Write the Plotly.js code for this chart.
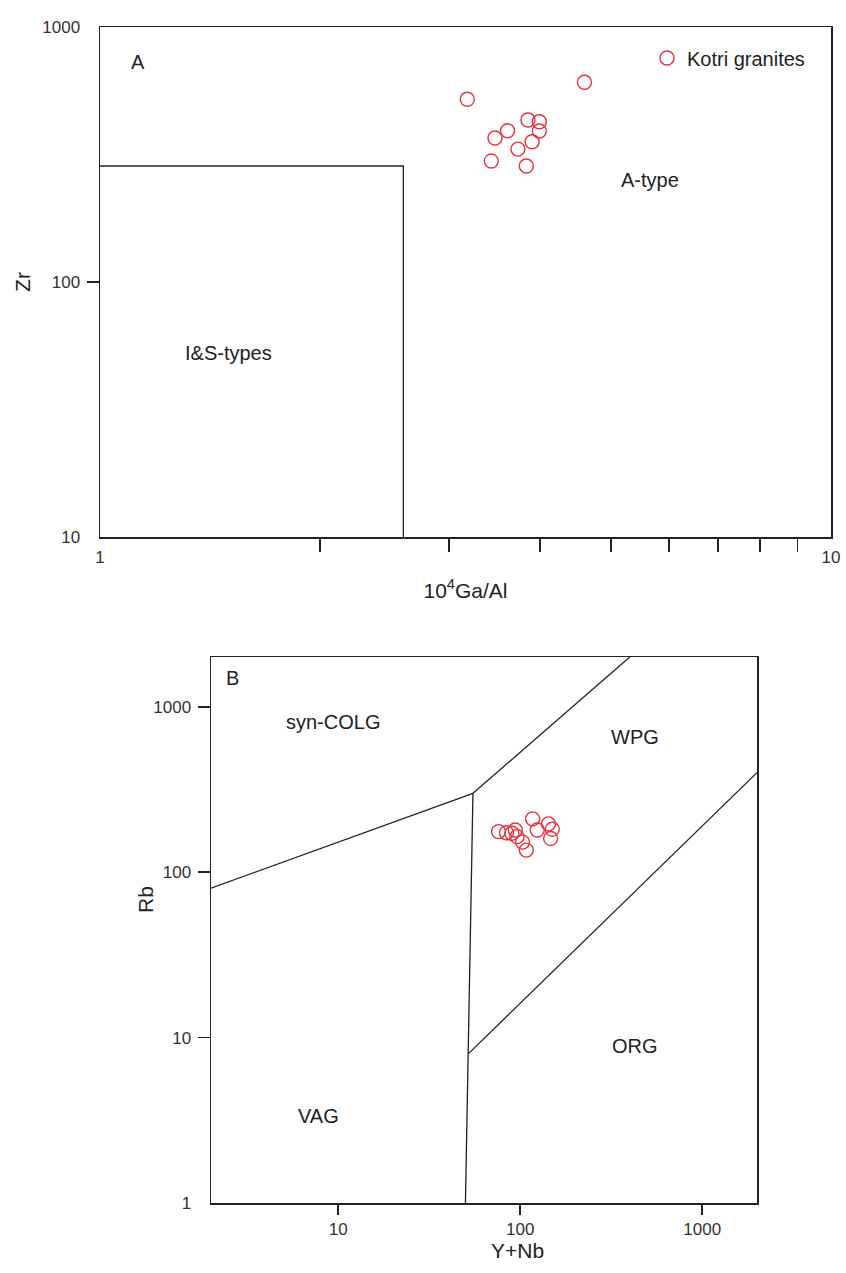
<!DOCTYPE html>
<html>
<head>
<meta charset="utf-8">
<script src="https://cdn.plot.ly/plotly-3.0.1.min.js"></script>
<style>html,body{margin:0;padding:0;background:#fff;}#chart{width:846px;height:1273px;}</style>
</head>
<body>
<div id="chart"></div>
<script>
// ---- Data ----
// Panel A: Zr vs 10^4 Ga/Al (Whalen et al.)
const kotriGaAl = [3.18, 4.60, 3.85, 3.99, 3.99, 3.61, 3.47, 3.90, 3.73, 3.43, 3.83];
const kotriZr   = [521, 607, 432, 425, 391, 392, 367, 355, 332, 298, 285];
// I&S-type field boundary
const isBoxX = [1, 2.6, 2.6];
const isBoxY = [285, 285, 10];

// Panel B: Rb vs Y+Nb (Pearce et al.)
const kotriYNb = [117, 143, 124, 150, 147, 76, 84, 90, 94, 96, 103, 108];
const kotriRb  = [210, 196, 180, 182, 160, 176, 173, 172, 180, 164, 152, 136];
const syncolgVagX = [2, 55];      const syncolgVagY = [80, 300];
const syncolgWpgX = [55, 400];    const syncolgWpgY = [300, 2000];
const vagWpgX     = [55, 52, 50]; const vagWpgY     = [300, 8, 1];
const wpgOrgX     = [52, 2000];   const wpgOrgY     = [8, 400];

// Tick labels
const aXTickVals = [1, 10];            const aXTickText = ['1', '10'];
const aXMinorVals = [2, 3, 4, 5, 6, 7, 8, 9];
const aYTickVals = [10, 100, 1000];    const aYTickText = ['10', '100', '1000'];
const bXTickVals = [10, 100, 1000];    const bXTickText = ['10', '100', '1000'];
const bYTickVals = [1, 10, 100, 1000]; const bYTickText = ['1', '10', '100', '1000'];

// Field labels
const fieldLabelsA = ['A', 'A-type', 'I&S-types'];
const fieldLabelsB = ['B', 'syn-COLG', 'WPG', 'ORG', 'VAG'];

// ---- Styling ----
const W = 846, H = 1273;
const FONT = 'Liberation Sans, Arial, sans-serif';
const INK = '#222';
const RED = '#e8323a';
const LBL = 20;   // field label size
const TICK = 17;  // tick label size
const TTL = 21;   // axis title size
const px = v => v / W;
const py = v => 1 - v / H;

const marker = {symbol: 'circle-open', size: 14, color: RED, line: {width: 1.4, color: RED}};
const lineStyle = {color: INK, width: 1.3};

function boundary(x, y, xa, ya) {
  return {x: x, y: y, xaxis: xa, yaxis: ya, mode: 'lines', line: lineStyle,
          showlegend: false, hoverinfo: 'skip'};
}

const traces = [
  boundary(isBoxX, isBoxY, 'x', 'y'),
  {x: kotriGaAl, y: kotriZr, xaxis: 'x', yaxis: 'y', mode: 'markers', type: 'scatter',
   name: 'Kotri granites', marker: marker, showlegend: true},
  boundary(syncolgVagX, syncolgVagY, 'x2', 'y2'),
  boundary(syncolgWpgX, syncolgWpgY, 'x2', 'y2'),
  boundary(vagWpgX, vagWpgY, 'x2', 'y2'),
  boundary(wpgOrgX, wpgOrgY, 'x2', 'y2'),
  {x: kotriYNb, y: kotriRb, xaxis: 'x2', yaxis: 'y2', mode: 'markers', type: 'scatter',
   name: 'Kotri granites', marker: marker, showlegend: false}
];

const axisBase = {type: 'log', showline: true, mirror: true, linecolor: INK, linewidth: 1.5,
                  showgrid: false, zeroline: false, tickfont: {size: TICK, color: '#333', family: FONT}};

function ann(text, x, y, size, extra) {
  return Object.assign({text: text, x: px(x), y: py(y), xref: 'paper', yref: 'paper',
    showarrow: false, xanchor: 'center', yanchor: 'middle',
    font: {size: size, color: INK, family: FONT}}, extra || {});
}

const layout = {
  width: W, height: H,
  margin: {l: 0, r: 0, t: 0, b: 0},
  paper_bgcolor: '#fff', plot_bgcolor: '#fff',
  font: {family: FONT, color: INK},
  showlegend: true,
  legend: {x: px(647), y: py(58), xanchor: 'left', yanchor: 'middle',
           font: {size: LBL, color: INK, family: FONT}, bgcolor: 'rgba(0,0,0,0)'},
  xaxis: Object.assign({}, axisBase, {
    domain: [px(100), px(831)], anchor: 'y', range: [0, 1],
    tickmode: 'array', tickvals: aXTickVals, ticktext: aXTickText, ticks: '',
    ticklabelstandoff: 4,
    minor: {tickmode: 'array', tickvals: aXMinorVals, ticks: 'outside', ticklen: 13,
            tickwidth: 1.5, tickcolor: INK, showgrid: false},
    title: {text: '10<sup>4</sup>Ga/Al', font: {size: TTL, color: INK, family: FONT}, standoff: 17}
  }),
  yaxis: Object.assign({}, axisBase, {
    domain: [py(537), py(27)], anchor: 'x', range: [1, 3],
    tickmode: 'array', tickvals: aYTickVals, ticktext: aYTickText, ticks: '',
    ticklabelstandoff: 15,
    minor: {tickmode: 'array', tickvals: [100], ticks: 'outside', ticklen: 12,
            tickwidth: 1.5, tickcolor: INK, showgrid: false},
    title: {text: 'Zr', font: {size: TTL, color: INK, family: FONT}, standoff: 6}
  }),
  xaxis2: Object.assign({}, axisBase, {
    domain: [px(211), px(757)], anchor: 'y2', range: [Math.log10(2), Math.log10(2000)],
    tickmode: 'array', tickvals: bXTickVals, ticktext: bXTickText,
    ticks: 'outside', ticklen: 10, tickwidth: 1.5, tickcolor: INK
  }),
  yaxis2: Object.assign({}, axisBase, {
    domain: [py(1203), py(657)], anchor: 'x2', range: [0, Math.log10(2000)],
    tickmode: 'array', tickvals: bYTickVals, ticktext: bYTickText, ticks: '',
    ticklabelstandoff: 15,
    minor: {tickmode: 'array', tickvals: [10, 100, 1000], ticks: 'outside', ticklen: 12,
            tickwidth: 1.5, tickcolor: INK, showgrid: false}
  }),
  annotations: [
    ann(fieldLabelsA[0], 138, 62, LBL),
    ann(fieldLabelsA[1], 650, 180, LBL),
    ann(fieldLabelsA[2], 228, 353, LBL),
    ann(fieldLabelsB[0], 232, 678, LBL),
    ann(fieldLabelsB[1], 333, 722, LBL),
    ann(fieldLabelsB[2], 635, 737, LBL),
    ann(fieldLabelsB[3], 635, 1046, LBL),
    ann(fieldLabelsB[4], 318, 1116, LBL),
    ann('Y+Nb', 517, 1250, TTL),
    ann('Rb', 145, 900, TTL, {textangle: -90})
  ]
};

Plotly.newPlot('chart', traces, layout, {staticPlot: true, displayModeBar: false});
</script>
</body>
</html>
